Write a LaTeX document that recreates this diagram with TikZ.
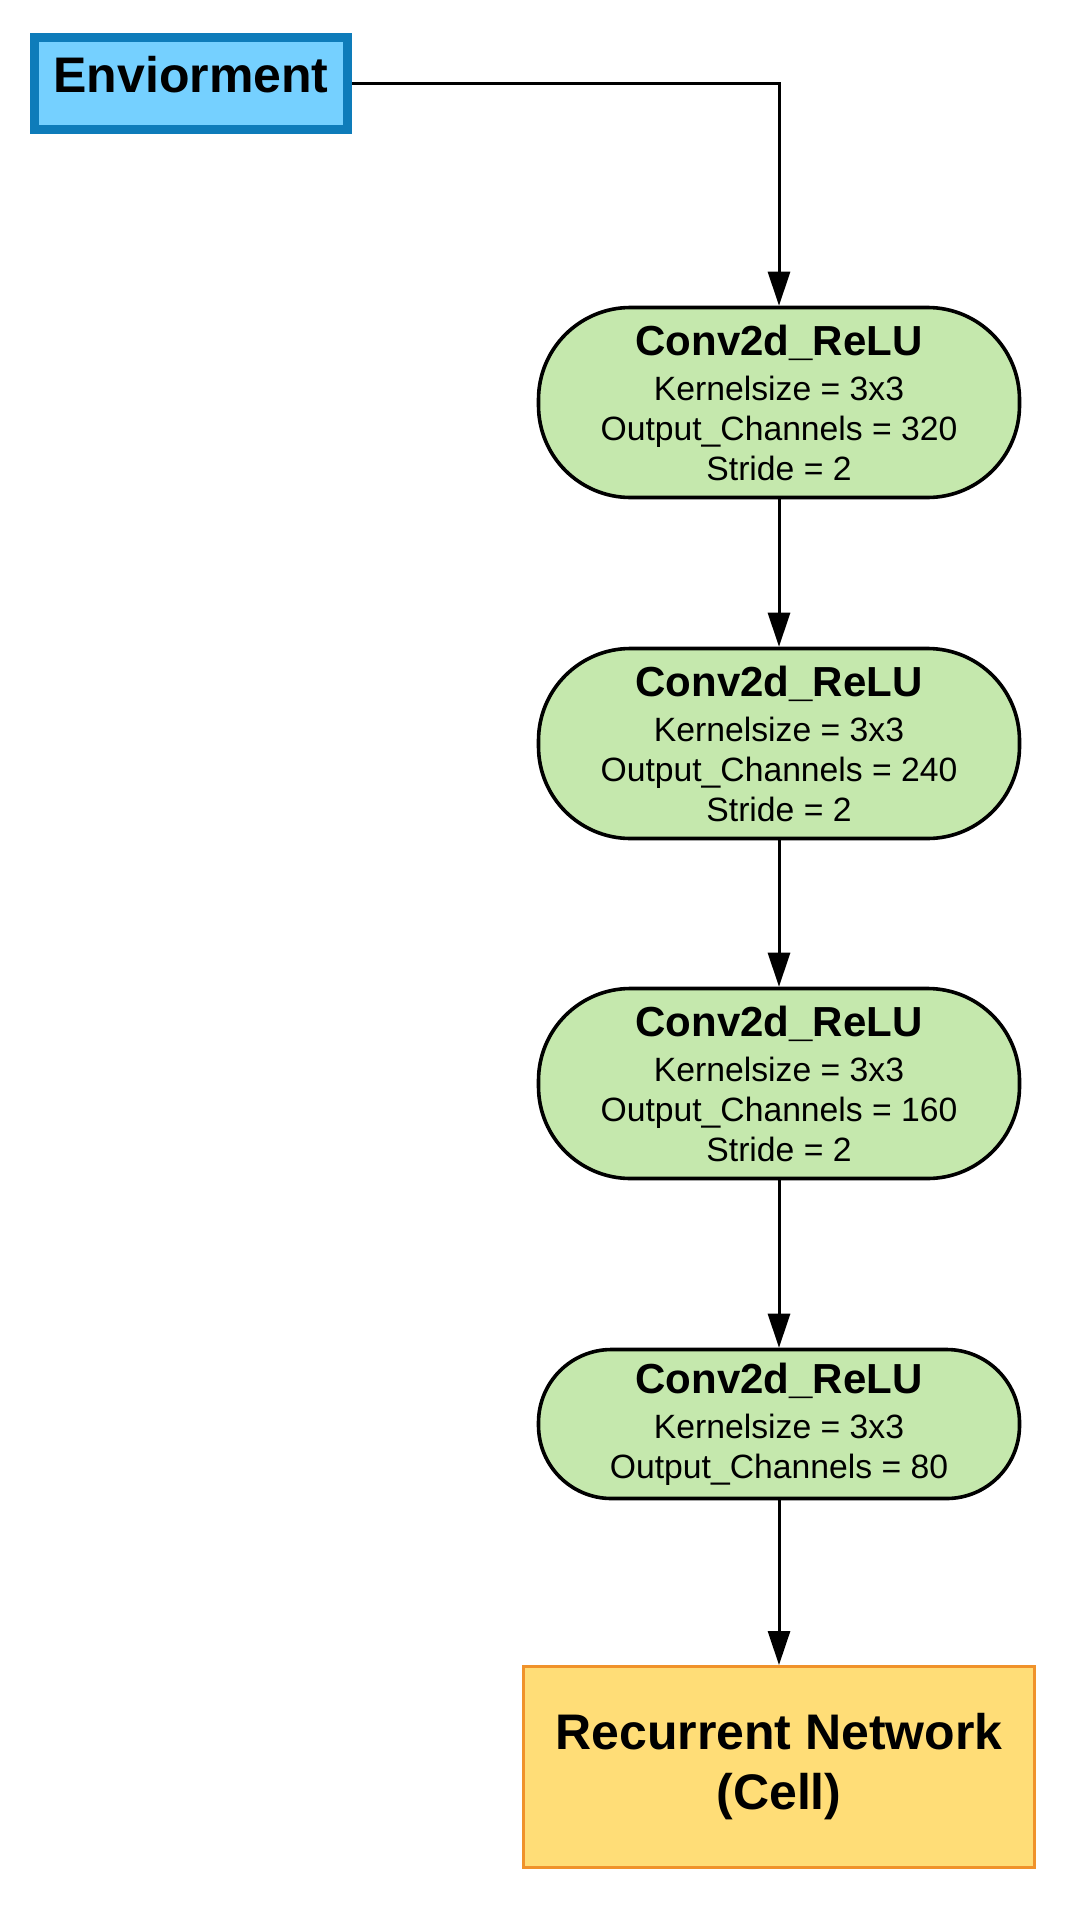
\documentclass[tikz,border=0pt]{standalone}
\usepackage{fontspec}
\setmainfont{Liberation Sans}
\usetikzlibrary{arrows.meta}
\definecolor{envfill}{HTML}{75D0FF}
\definecolor{envline}{HTML}{0E7CBA}
\definecolor{convfill}{HTML}{C5E8AD}
\definecolor{rnnfill}{HTML}{FFDD77}
\definecolor{rnnline}{HTML}{F0922A}
\tikzset{
  envbox/.style={draw=envline, fill=envfill, line width=9pt, minimum width=313pt, minimum height=92pt, inner sep=0pt,
    font=\fontsize{50}{60}\selectfont\bfseries, text height=36pt, text depth=18pt},
  convbox/.style={draw=black, fill=convfill, line width=3.6pt, minimum width=481pt, rounded corners=#1, inner sep=0pt, align=center,
    font=\fontsize{33.7}{40}\selectfont},
  rnnbox/.style={draw=rnnline, fill=rnnfill, line width=3pt, minimum width=511pt, minimum height=201pt, inner sep=0pt, align=center,
    font=\fontsize{50}{60}\selectfont\bfseries},
  conn/.style={draw=black, line width=3pt, -{Triangle[length=34pt,width=22pt]}},
}
\newcommand{\ttl}[1]{{\fontsize{42}{45}\selectfont\bfseries #1}}
\begin{document}
\begin{tikzpicture}[x=1pt,y=-1pt]
\useasboundingbox (0,0) rectangle (1069,1913);
\node[envbox] (env) at (191,83.5) {Enviorment};
\node[convbox=92pt, minimum height=190pt] (c1) at (779,402.5) {\ttl{Conv2d\_ReLU}\\[5pt]Kernelsize = 3x3\\Output\_Channels = 320\\Stride = 2};
\node[convbox=92pt, minimum height=190pt] (c2) at (779,743.5) {\ttl{Conv2d\_ReLU}\\[5pt]Kernelsize = 3x3\\Output\_Channels = 240\\Stride = 2};
\node[convbox=92pt, minimum height=190pt] (c3) at (779,1083.5) {\ttl{Conv2d\_ReLU}\\[5pt]Kernelsize = 3x3\\Output\_Channels = 160\\Stride = 2};
\node[convbox=73pt, minimum height=149pt] (c4) at (779,1424) {\ttl{Conv2d\_ReLU}\\[5pt]Kernelsize = 3x3\\Output\_Channels = 80};
\node[rnnbox] (rnn) at (779,1767) {Recurrent Network\\(Cell)};
\draw[conn] (env.east) -| (c1.north);
\draw[conn] (c1.south) -- (c2.north);
\draw[conn] (c2.south) -- (c3.north);
\draw[conn] (c3.south) -- (c4.north);
\draw[conn] (c4.south) -- (rnn.north);
\end{tikzpicture}
\end{document}
